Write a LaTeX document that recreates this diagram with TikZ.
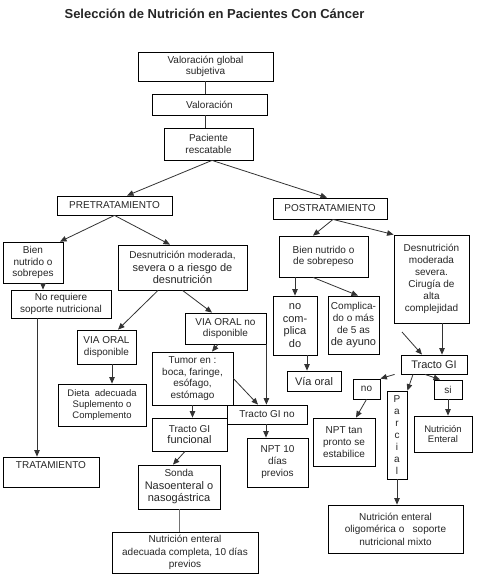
\documentclass[tikz,border=0pt]{standalone}
\usepackage{fontspec}
\setmainfont{Liberation Sans}
\usetikzlibrary{arrows.meta}
\newcommand\bgr{\fontsize{11}{12.5}\selectfont}
\newcommand\smr{\fontsize{9.5}{10.7}\selectfont}
\newcommand\bx[7][]{\node[box,#1,minimum width={(#4-#2)*1pt},minimum height={(#5-#3)*1pt}] (#6) at ({(#2+#4)/2},{(#3+#5)/2}) {#7};}
\begin{document}
\begin{tikzpicture}[x=1pt,y=-1pt,
  box/.style={draw=black, line width=0.8pt, inner sep=0pt, align=center, text=black!85,
    font=\fontsize{10}{11.7}\selectfont},
  arr/.style={draw=black!80, line width=0.8pt, -{Triangle[length=6.5pt,width=5.5pt]}},
  ln/.style={draw=black!80, line width=0.8pt}]
\useasboundingbox[fill=white] (0,0) rectangle (481,581);
\node[font=\fontsize{13}{15}\selectfont\bfseries, text=black!85] (title) at (214.5,14) {Selección de Nutrición en Pacientes Con Cáncer};

\bx{138}{52}{273}{81}{vgs}{Valoración global\\subjetiva}
\bx{152}{94}{267}{115}{val}{Valoración}
\bx{164}{128}{253}{160}{pac}{Paciente\\rescatable}
\bx{57}{196}{172}{215}{pre}{PRETRATAMIENTO}
\bx{273}{198}{387}{219}{post}{POSTRATAMIENTO}
\bx{3}{242}{63}{283}{bn1}{Bien\\nutrido o\\sobrepes}
\bx[font=\fontsize{10}{12.5}\selectfont]{118}{245}{247}{290}{des1}{Desnutrición moderada,\\\bgr severa o a riesgo de\\\bgr desnutrición}
\bx{11}{290}{111}{318}{nrq}{No requiere\\soporte nutricional}
\bx{77}{330}{136}{364}{voD}{VIA ORAL\\disponible}
\bx{185}{313}{266}{344}{voN}{VIA ORAL no\\disponible}
\bx[font=\fontsize{10}{11.5}\selectfont]{152}{352}{233}{405}{tum}{Tumor en :\\boca, faringe,\\esófago,\\estómago}
\bx[font=\smr]{58}{384}{146}{426}{die}{Dieta\ \ adecuada\\Suplemento o\\Complemento}
\bx{152}{418}{227}{451}{tgf}{Tracto GI\\\bgr funcional}
\bx{227}{405}{307}{424}{tgn}{Tracto GI no}
\bx[font=\fontsize{10}{12}\selectfont]{247}{438}{308}{487}{npt10}{NPT 10\\días\\previos}
\bx{3}{457}{99}{487}{trt}{TRATAMIENTO\\[3pt]}
\bx[font=\fontsize{10}{12.5}\selectfont]{138}{465}{220}{509}{son}{Sonda\\\bgr Nasoenteral o\\\bgr nasogástrica}
\bx[font=\fontsize{10}{12.2}\selectfont]{112}{532}{258}{573}{nea}{Nutrición enteral\\adecuada completa, 10 días\\previos}

\bx{279}{236}{368}{277}{bn2}{Bien nutrido o\\de sobrepeso}
\bx[font=\fontsize{10}{12}\selectfont]{394}{235}{469}{323}{des2}{Desnutrición\\moderada\\severa.\\Cirugía de\\alta\\complejidad}
\bx[font=\fontsize{11}{12.7}\selectfont]{273}{296}{317}{355}{nc}{no\\com-\\plica\\do}
\bx[font=\fontsize{10}{12.2}\selectfont]{328}{296}{379}{354}{cmp}{Complica-\\do o más\\de 5 as\\\bgr de ayuno}
\bx[font=\bgr]{287}{371}{341}{391}{vo}{Vía oral}
\bx[font=\bgr]{401}{355}{467}{374}{tg}{Tracto GI}
\bx{353}{379}{380}{399}{no}{no}
\bx[font=\fontsize{10}{12}\selectfont]{387}{391}{407}{479}{par}{P\\a\\r\\c\\i\\a\\l}
\bx{434}{380}{462}{399}{si}{si}
\bx[font=\smr]{414}{416}{472}{452}{ne}{Nutrición\\Enteral}
\bx[font=\fontsize{10}{12}\selectfont]{313}{418}{375}{466}{nptp}{NPT tan\\pronto se\\estabilice}
\bx[font=\fontsize{10}{12.5}\selectfont]{328}{505}{463}{553}{neo}{Nutrición enteral\\oligomérica o\ \ \ soporte\\nutricional mixto}

% connectors
\draw[ln] (vgs.south) -- (vgs.south |- val.north);
\draw[ln] (val.south -| vgs.south) -- (pac.north -| vgs.south);
\draw[arr] ([xshift=3.5]pac.south) -- ([xshift=12.5]pre.north);
\draw[arr] ([xshift=3.5]pac.south) -- ([xshift=-3]post.north);
\draw[arr] (pre.south) -- ([xshift=27]bn1.north);
\draw[arr] (pre.south) -- ([xshift=-12.5]des1.north);
\draw[arr] ([xshift=10]bn1.south) -- ([xshift=10]bn1.south |- nrq.north);
\draw[arr] ([xshift=-24.5]des1.south) -- ([xshift=11.5]voD.north);
\draw[arr] (des1.south) -- ([xshift=-13.5]voN.north);
\draw[arr] ([xshift=-7.5]voN.south) -- ([xshift=19.5]tum.north);
\draw[arr] ([xshift=5.5]voD.south) -- ([xshift=5.5]voD.south |- die.north);
\draw[arr] (tum.south) -- (tum.south |- tgf.north);
\draw[arr] (voN.south east) -- (voN.south east |- tgn.north);
\draw[arr] (tum.east) -- ([xshift=-9]tgn.north);
\draw[arr] ([xshift=-1]tgn.south) -- ([xshift=-1]tgn.south |- npt10.north);
\draw[arr] ([xshift=-24]nrq.south) -- ([xshift=-24]nrq.south |- trt.north);
\draw[arr] ([xshift=-4.5]tgf.south) -- ([xshift=-6]son.north);
\draw[draw=black!55, line width=0.6pt] (son.south) -- (son.south |- nea.north);

\draw[arr] ([xshift=3]post.south) -- ([xshift=-10.5]bn2.north);
\draw[arr] ([xshift=3]post.south) -- (des2.north west);
\draw[arr] (nc.north |- bn2.south) -- (nc.north);
\draw[arr] ([xshift=-10.5]bn2.south) -- ([xshift=4.5]cmp.north);
\draw[arr] ([xshift=12]nc.south) -- ([xshift=12]nc.south |- vo.north);
\draw[arr] ([xshift=10.5]des2.south) -- ([xshift=10.5]des2.south |- tg.north);
\coordinate (free) at (402,332);
\draw[arr] (free) -- ([xshift=-12]tg.north);
\draw[arr] ([xshift=-6]tg.south west) -- (no.north east);
\draw[arr] ([xshift=-21]tg.south) -- (par.north east);
\draw[arr] ([xshift=-9]tg.south) -- ([xshift=-8]si.north);
\draw[arr] (si.south) -- (si.south |- ne.north);
\draw[arr] (no.south) -- ([xshift=12]nptp.north);
\draw[arr] (par.south) -- (par.south |- neo.north);
\end{tikzpicture}
\end{document}
